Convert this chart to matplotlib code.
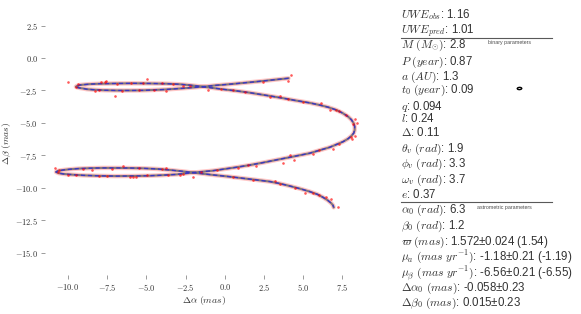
import matplotlib
matplotlib.use("Agg")
import matplotlib.pyplot as plt
from matplotlib.ticker import FuncFormatter, MultipleLocator
from matplotlib.patches import Ellipse

plt.rcParams['mathtext.fontset'] = 'cm'
plt.rcParams['font.family'] = ['Liberation Sans', 'DejaVu Sans']

# ---- model track (mas) ----
track_x = [4.06, 3.2, 2.44, 1.6, 0.74, 0.1, -0.53, -1.38, -2.0, -2.65, -3.72, -4.5, -5.20,
           -6.0, -6.90, -7.7, -8.39, -8.8, -9.02, -9.24, -9.42, -9.49, -9.42, -9.24, -8.9,
           -8.60, -7.96, -6.9, -5.84, -4.8, -3.72, -2.9, -2.23, -1.38, -0.11, 0.8, 1.59, 2.87,
           3.7, 4.56, 5.4, 6.05, 6.6, 7.11, 7.5, 7.86, 8.07, 8.22, 8.28, 8.28, 8.22, 8.07,
           7.85, 7.54, 7.15, 6.69, 6.1, 5.41, 4.14, 3.3, 2.44, 1.6, 0.74, -0.74, -2.02,
           -3.08, -4.0, -4.78, -5.8, -6.90, -8.0, -9.02, -9.7, -10.30, -10.6, -10.76, -10.62,
           -10.3, -9.87, -9.3, -8.60, -7.8, -6.90, -6.0, -5.20, -4.3, -3.50, -2.7, -2.02,
           -0.74, 0.2, 1.17, 2.0, 2.87, 3.5, 4.14, 4.8, 5.41, 5.9, 6.26, 6.55, 6.79, 6.9, 6.94]
track_y = [-1.56, -1.67, -1.77, -1.87, -1.97, -2.04, -2.10, -2.21, -2.27, -2.33, -2.42, -2.46, -2.49,
           -2.50, -2.50, -2.48, -2.44, -2.40, -2.35, -2.31, -2.26, -2.21, -2.15, -2.08, -2.04,
           -2.01, -1.98, -1.96, -1.95, -1.96, -1.98, -2.02, -2.09, -2.21, -2.41, -2.54, -2.67, -2.92,
           -3.09, -3.28, -3.45, -3.62, -3.79, -4.00, -4.23, -4.51, -4.75, -5.03, -5.28, -5.54, -5.78, -6.00,
           -6.22, -6.44, -6.64, -6.87, -7.08, -7.33, -7.64, -7.84, -8.05, -8.24, -8.41, -8.67, -8.82,
           -8.96, -9.02, -9.06, -9.08, -9.09, -9.07, -9.03, -8.98, -8.92, -8.86, -8.77, -8.68,
           -8.62, -8.56, -8.51, -8.48, -8.46, -8.46, -8.47, -8.49, -8.54, -8.62, -8.72, -8.82,
           -9.00, -9.12, -9.26, -9.38, -9.51, -9.66, -9.85, -10.06, -10.28, -10.49, -10.72, -10.94, -11.18, -11.34, -11.49]

# ---- observations (mas) ----
obs_x = [4.25, 4.06, -10.02, -9.49, -9.34, -7.86, -7.64, -7.54, -6.90, -4.93, -4.03, -3.29, -2.65,
         -2.23, -1.06, -0.21, -6.98, -6.58, -8.28, -3.76, 2.44, 2.87, 3.50, 6.16, 6.69, 7.11, 7.28,
         8.28, 8.43, 8.17, 8.28, 8.07, 6.92, 4.14, 4.39, 3.72, 5.63, 2.02, 0.85, -2.02, -3.72, -6.48,
         -10.83, -10.55, -10.62, -9.98, -9.02, -8.49, -7.22, -6.05, -5.84, -5.63, -4.99, -3.61, -2.87,
         -2.65, 3.18, 3.50, 5.10, 5.63, 6.43, 6.75, 7.22, -5.5, -4.5, -8.0, -6.0, -5.2, 0.5, 1.3, 4.0,
         5.0, 7.3, 6.0, 1.5, -0.5, -8.0, -7.5, -9.5, -4.0, -5.5, 0.5, 1.8, 4.5, 6.0, -1.5, 7.7, 8.1]
obs_y = [-1.31, -1.74, -1.87, -2.26, -2.00, -1.87, -1.82, -1.77, -1.97, -1.64, -1.95, -2.03, -2.15,
         -2.13, -2.46, -2.41, -2.92, -2.56, -2.51, -2.51, -1.85, -2.97, -2.92, -3.49, -4.00, -4.00, -4.05,
         -4.72, -4.97, -5.08, -6.00, -6.10, -7.03, -7.49, -7.85, -8.05, -7.38, -8.31, -8.49, -9.13, -8.49,
         -8.31, -8.49, -8.62, -8.74, -9.00, -8.56, -8.62, -8.56, -9.18, -9.18, -9.13, -9.03, -9.03, -8.97,
         -8.92, -9.46, -9.69, -10.36, -10.41, -10.67, -10.87, -11.44, -2.48, -2.45, -2.47, -1.94, -1.96,
         -2.50, -2.60, -3.15, -3.40, -6.62, -7.10, -8.25, -8.62, -9.07, -9.08, -9.01, -8.55, -8.47,
         -9.14, -9.36, -10.0, -10.55, -8.78, -4.35, -6.2]

# ---- parameter panel ----
uwe_labels = [r'$UWE_{obs}$', r'$UWE_{pred}$']
uwe_values = ['1.16', '1.01']
binary_labels = [r'$M\ (M_{\odot})$', r'$P\ (year)$', r'$a\ (AU)$', r'$t_0\ (year)$', r'$q$', r'$l$',
                 r'$\Delta$', r'$\theta_v\ (rad)$', r'$\phi_v\ (rad)$', r'$\omega_v\ (rad)$', r'$e$']
binary_values = ['2.8', '0.87', '1.3', '0.09', '0.094', '0.24', '0.11', '1.9', '3.3', '3.7', '0.37']
astro_labels = [r'$\alpha_0\ (rad)$', r'$\beta_0\ (rad)$', r'$\varpi\ (mas)$',
                r'$\mu_a\ (mas\ yr^{-1})$', r'$\mu_\beta\ (mas\ yr^{-1})$',
                r'$\Delta\alpha_0\ (mas)$', r'$\Delta\beta_0\ (mas)$']
astro_values = ['6.3', '1.2', '1.572±0.024 (1.54)', '-1.18±0.21 (-1.19)', '-6.56±0.21 (-6.55)',
                '-0.058±0.23', '0.015±0.23']

W, H = 581, 314
fig = plt.figure(figsize=(W / 100, H / 100), dpi=100)
ax = fig.add_axes([45 / W, 1 - 275 / H, (363 - 45) / W, (275 - 11.6) / H])

ax.plot(track_x, track_y, color='red', lw=3.2, alpha=0.22, solid_capstyle='round', zorder=1)
ax.plot(track_x, track_y, color='0.4', lw=1.5, alpha=0.8, zorder=2)
ax.plot(track_x, track_y, color='blue', lw=1.0, alpha=0.55, dashes=(3, 2), zorder=3)
ax.scatter(obs_x, obs_y, s=3.5, color='red', alpha=0.65, linewidths=0, zorder=4)

ax.set_xlim(-11.46, 8.81)
ax.set_ylim(-16.7, 3.57)
ax.xaxis.set_major_locator(MultipleLocator(2.5))
ax.yaxis.set_major_locator(MultipleLocator(2.5))
fmt = FuncFormatter(lambda v, p: r'$%.1f$' % v)
ax.xaxis.set_major_formatter(fmt)
ax.yaxis.set_major_formatter(fmt)
for s in ax.spines.values():
    s.set_visible(False)
ax.tick_params(length=3, width=0.6, color='0.55', labelsize=6, labelcolor='0.2', pad=2)
ax.set_xlabel(r'$\Delta\alpha\ (mas)$', fontsize=7, color='0.2', labelpad=1)
ax.set_ylabel(r'$\Delta\beta\ (mas)$', fontsize=7, color='0.2', labelpad=1.5)

# text panel
tx = 401 / W
fs = 8.3
col = '0.2'
def put(ypx, s):
    fig.text(tx, 1 - (ypx + 3.5) / H, s, fontsize=fs, color=col, va='baseline', ha='left')

uwe_y = [15, 30.7]
for yy, l, v in zip(uwe_y, uwe_labels, uwe_values):
    put(yy, l + ': ' + v)
bin_y = [44.5, 61.7, 76.7, 89.3, 106.7, 119, 132.5, 148, 163.5, 179.3, 195]
for yy, l, v in zip(bin_y, binary_labels, binary_values):
    put(yy, l + ': ' + v)
ast_y = [209.8, 225, 241.7, 256.7, 273.3, 287.8, 302.7]
for yy, l, v in zip(ast_y, astro_labels, astro_values):
    put(yy, l + ': ' + v)

fig.add_artist(plt.Line2D([401 / W, 552 / W], [1 - 38.3 / H, 1 - 38.3 / H], color='0.35', lw=0.8))
fig.add_artist(plt.Line2D([401 / W, 552 / W], [1 - 202.3 / H, 1 - 202.3 / H], color='0.35', lw=0.8))
fig.text(487.7 / W, 1 - 42.7 / H, 'binary parameters', fontsize=3.8, color='0.3', va='center')
fig.text(476.7 / W, 1 - 207.3 / H, 'astrometric parameters', fontsize=3.8, color='0.3', va='center')

# tiny orbit sketch
fig.add_artist(Ellipse((519.5 / W, 1 - 88.5 / H), 4.5 / W, 2.2 / H, angle=25,
                       transform=fig.transFigure, facecolor='none', edgecolor='black', lw=1.0))

fig.savefig('out.png', dpi=100)
